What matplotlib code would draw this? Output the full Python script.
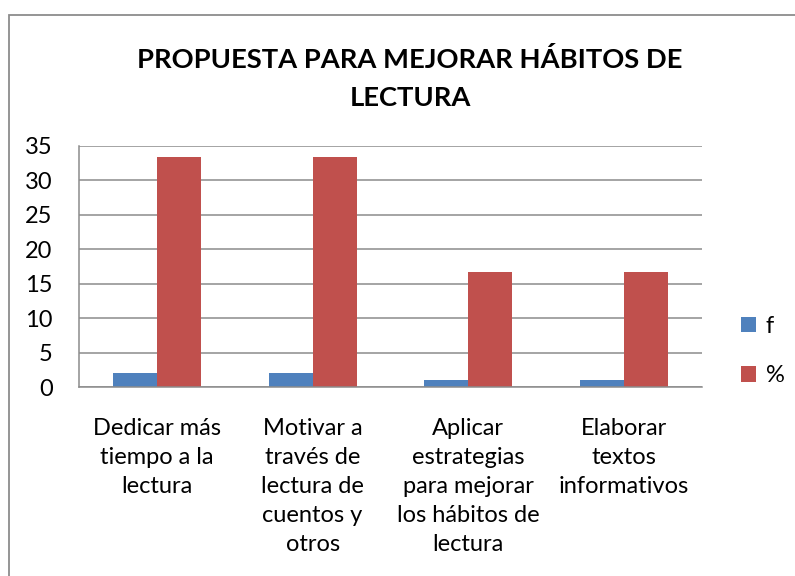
import matplotlib
matplotlib.use("Agg")
import matplotlib.pyplot as plt
import numpy as np
from matplotlib.patches import Rectangle

categories = [
    "Dedicar más\ntiempo a la\nlectura",
    "Motivar a\ntravés de\nlectura de\ncuentos y\notros",
    "Aplicar\nestrategias\npara mejorar\nlos hábitos de\nlectura",
    "Elaborar\ntextos\ninformativos",
]
f_values = [2, 2, 1, 1]
pct_values = [33.33, 33.33, 16.67, 16.67]
series_names = ["f", "%"]
y_ticks = [0, 5, 10, 15, 20, 25, 30, 35]
title = "PROPUESTA PARA MEJORAR HÁBITOS DE\nLECTURA"

plt.rcParams['font.family'] = ['Lato', 'DejaVu Sans']

fig = plt.figure(figsize=(7.95, 5.76), dpi=100)
ax = fig.add_axes([79/795, 1-387/576, (702-79)/795, (387-145.7)/576])

x = np.arange(len(categories))
w = 0.282
grid_c = '#8c8c8c'
ax.bar(x - w/2, f_values, w, color='#4F81BD', label=series_names[0], zorder=3)
ax.bar(x + w/2, pct_values, w, color='#C0504D', label=series_names[1], zorder=3)

ax.set_xlim(-0.5, len(categories) - 0.5)
ax.set_ylim(0, 35)
ax.set_yticks(y_ticks)
ax.set_yticklabels([str(t) for t in y_ticks], fontsize=17)
ax.set_xticks(x)
ax.set_xticklabels(categories, fontsize=17, linespacing=1.47)
ax.tick_params(axis='both', length=0)
ax.tick_params(axis='y', pad=19)
ax.tick_params(axis='x', pad=22)
ax.yaxis.grid(True, color=grid_c, linewidth=1.1, zorder=0)
ax.set_axisbelow(True)
for s in ['top', 'right']:
    ax.spines[s].set_visible(False)
for s in ['left', 'bottom']:
    ax.spines[s].set_color(grid_c)
    ax.spines[s].set_linewidth(1.1)
    ax.spines[s].set_zorder(4)

fig.text(410/795, 1-79/576, title, ha='center', va='center', fontsize=19.7,
         fontweight='bold', linespacing=1.7)

leg = ax.legend(loc='center left', bbox_to_anchor=(741/795, 1-351/576),
                bbox_transform=fig.transFigure, frameon=False, fontsize=17,
                handlelength=0.65, handleheight=0.65, handletextpad=0.4,
                labelspacing=1.2, borderaxespad=0, borderpad=0)

fig.patches.append(Rectangle((9/795, -0.1), 1.2, 1 - 15/576 + 0.1,
                             transform=fig.transFigure, fill=False,
                             edgecolor='#8c8c8c', linewidth=1.3))

fig.savefig("out.png", dpi=100)
